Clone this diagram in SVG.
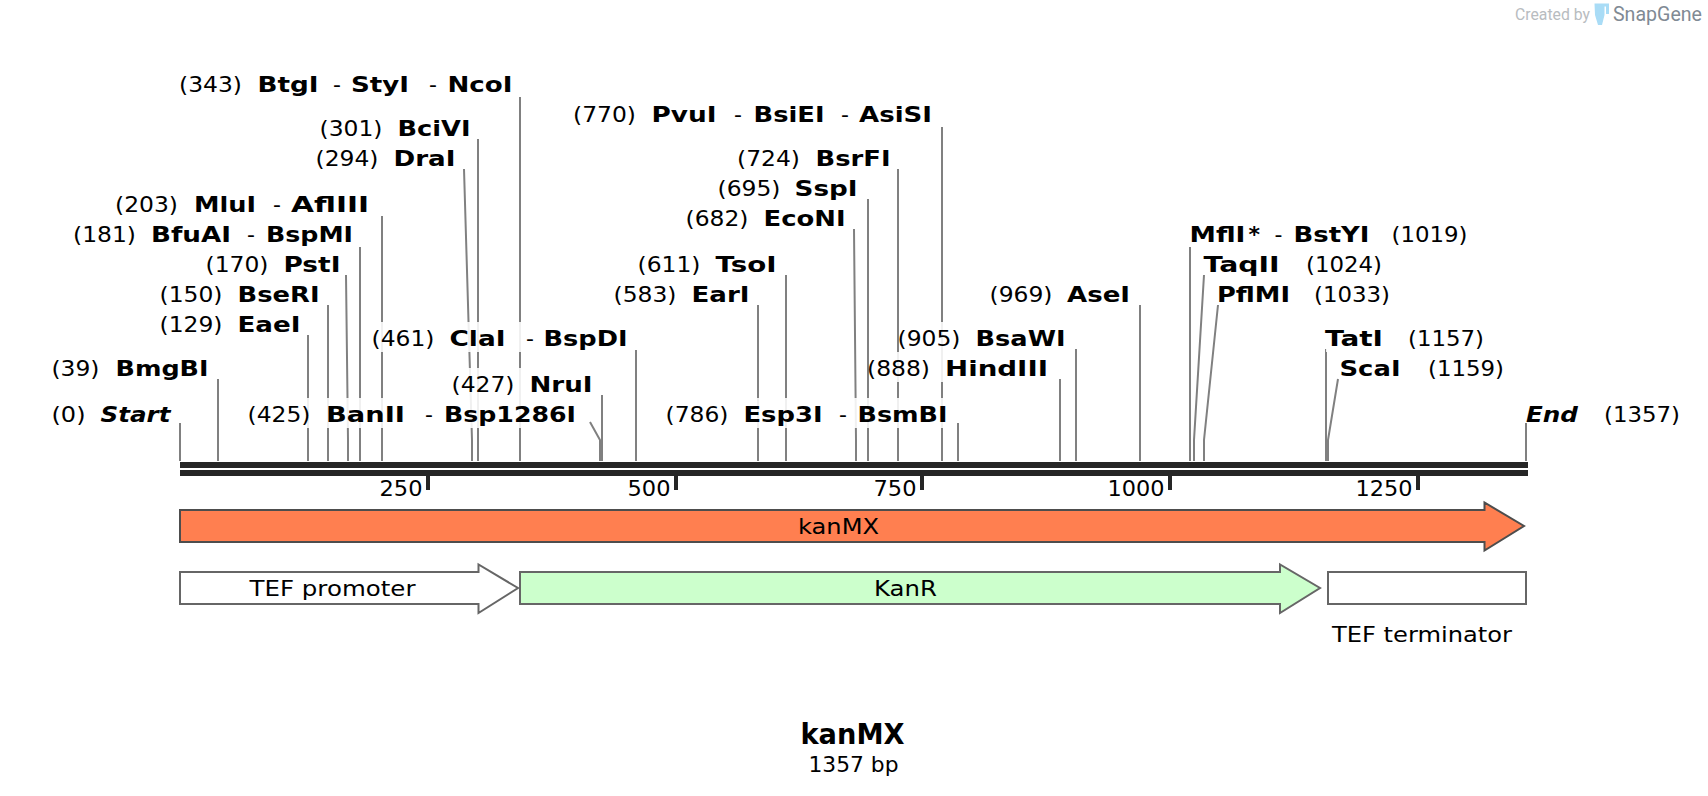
<svg xmlns="http://www.w3.org/2000/svg" width="1708" height="796" viewBox="0 0 1708 796">
<style>
text{font-family:"DejaVu Sans","Liberation Sans",sans-serif;fill:#000;font-size:22px}
.b{font-weight:bold}
.i{font-weight:bold;font-style:italic}
.h{fill:#fff;fill-opacity:.88}
.c{fill:none;stroke:#808080;stroke-width:2}
.bar{fill:#262626}
.tick{fill:#262626}
.f{stroke:#666;stroke-width:2}
</style>
<rect width="1708" height="796" fill="#fff"/>
<g id="connectors" class="c">
<path d="M180 423V461M218 379V461M308 335V461M328 305V461M346 275L348 440V461M360 247V461M382 216V461M464 169L472 440V461M478 139V461M520 97V461M590 422L600 440V461M602 395V461M636 350V461M758 305V461M786 275V461M854 229L856 440V461M868 199V461M898 169V461M942 127V461M958 423V461M1060 379V461M1076 349V461M1140 305V461M1190 247V461M1204 275L1194 440V461M1218 305L1204 440V461M1326 349V461M1338 379L1328 440V461M1526 423V461"/>
</g>
<g id="backbone">
<rect class="bar" x="180" y="462" width="1348" height="6"/>
<rect class="bar" x="180" y="470" width="1348" height="6"/>
<rect class="tick" x="426" y="476" width="4" height="14"/>
<rect class="tick" x="674" y="476" width="4" height="14"/>
<rect class="tick" x="920" y="476" width="4" height="14"/>
<rect class="tick" x="1168" y="476" width="4" height="14"/>
<rect class="tick" x="1416" y="476" width="4" height="14"/>
<text x="379.5" y="496" lengthAdjust="spacingAndGlyphs" textLength="43">250</text>
<text x="627.5" y="496" lengthAdjust="spacingAndGlyphs" textLength="43">500</text>
<text x="873.5" y="496" lengthAdjust="spacingAndGlyphs" textLength="43">750</text>
<text x="1107.5" y="496" lengthAdjust="spacingAndGlyphs" textLength="57">1000</text>
<text x="1355.5" y="496" lengthAdjust="spacingAndGlyphs" textLength="57">1250</text>
</g>
<g id="site-btgi"><rect class="h" x="181" y="68" width="330" height="30"/><text x="179" y="92" lengthAdjust="spacingAndGlyphs" textLength="63">(343)</text><text class="b" x="257.5" y="92" lengthAdjust="spacingAndGlyphs" textLength="61">BtgI</text><text x="333" y="92">-</text><text class="b" x="351" y="92" lengthAdjust="spacingAndGlyphs" textLength="58">StyI</text><text x="429" y="92">-</text><text class="b" x="447.5" y="92" lengthAdjust="spacingAndGlyphs" textLength="65">NcoI</text></g>
<g id="site-bcivi"><rect class="h" x="321" y="112" width="148" height="30"/><text x="319.5" y="136" lengthAdjust="spacingAndGlyphs" textLength="63">(301)</text><text class="b" x="397.5" y="136" lengthAdjust="spacingAndGlyphs" textLength="73">BciVI</text></g>
<g id="site-drai"><rect class="h" x="317" y="142" width="137" height="30"/><text x="315.5" y="166" lengthAdjust="spacingAndGlyphs" textLength="63">(294)</text><text class="b" x="393.5" y="166" lengthAdjust="spacingAndGlyphs" textLength="62">DraI</text></g>
<g id="site-mlui"><rect class="h" x="117" y="188" width="250" height="30"/><text x="115" y="212" lengthAdjust="spacingAndGlyphs" textLength="63">(203)</text><text class="b" x="194" y="212" lengthAdjust="spacingAndGlyphs" textLength="62">MluI</text><text x="273" y="212">-</text><text class="b" x="291" y="212" lengthAdjust="spacingAndGlyphs" textLength="78">AflIII</text></g>
<g id="site-bfuai"><rect class="h" x="75" y="218" width="275" height="30"/><text x="73" y="242" lengthAdjust="spacingAndGlyphs" textLength="63">(181)</text><text class="b" x="151" y="242" lengthAdjust="spacingAndGlyphs" textLength="80">BfuAI</text><text x="247" y="242">-</text><text class="b" x="266" y="242" lengthAdjust="spacingAndGlyphs" textLength="87">BspMI</text></g>
<g id="site-psti"><rect class="h" x="207" y="248" width="132" height="30"/><text x="205.5" y="272" lengthAdjust="spacingAndGlyphs" textLength="63">(170)</text><text class="b" x="283.5" y="272" lengthAdjust="spacingAndGlyphs" textLength="57">PstI</text></g>
<g id="site-bseri"><rect class="h" x="161" y="278" width="156" height="30"/><text x="159.5" y="302" lengthAdjust="spacingAndGlyphs" textLength="63">(150)</text><text class="b" x="237.5" y="302" lengthAdjust="spacingAndGlyphs" textLength="82">BseRI</text></g>
<g id="site-eaei"><rect class="h" x="161" y="308" width="138" height="30"/><text x="159.5" y="332" lengthAdjust="spacingAndGlyphs" textLength="63">(129)</text><text class="b" x="237.5" y="332" lengthAdjust="spacingAndGlyphs" textLength="63">EaeI</text></g>
<g id="site-bmgbi"><rect class="h" x="53" y="352" width="153" height="30"/><text x="51.5" y="376" lengthAdjust="spacingAndGlyphs" textLength="48">(39)</text><text class="b" x="115.5" y="376" lengthAdjust="spacingAndGlyphs" textLength="93">BmgBI</text></g>
<g id="site-start"><rect class="h" x="53" y="398" width="116" height="30"/><text x="51.5" y="422" lengthAdjust="spacingAndGlyphs" textLength="34">(0)</text><text class="i" x="100.5" y="422" lengthAdjust="spacingAndGlyphs" textLength="70">Start</text></g>
<g id="site-banii"><rect class="h" x="249" y="398" width="324" height="30"/><text x="247.5" y="422" lengthAdjust="spacingAndGlyphs" textLength="63">(425)</text><text class="b" x="326" y="422" lengthAdjust="spacingAndGlyphs" textLength="79">BanII</text><text x="425" y="422">-</text><text class="b" x="444" y="422" lengthAdjust="spacingAndGlyphs" textLength="132">Bsp1286I</text></g>
<g id="site-clai"><rect class="h" x="373" y="322" width="252" height="30"/><text x="371.5" y="346" lengthAdjust="spacingAndGlyphs" textLength="63">(461)</text><text class="b" x="449.5" y="346" lengthAdjust="spacingAndGlyphs" textLength="56">ClaI</text><text x="526" y="346">-</text><text class="b" x="543.5" y="346" lengthAdjust="spacingAndGlyphs" textLength="84">BspDI</text></g>
<g id="site-nrui"><rect class="h" x="453" y="368" width="138" height="30"/><text x="451.5" y="392" lengthAdjust="spacingAndGlyphs" textLength="63">(427)</text><text class="b" x="529.5" y="392" lengthAdjust="spacingAndGlyphs" textLength="63">NruI</text></g>
<g id="site-pvui"><rect class="h" x="575" y="98" width="355" height="30"/><text x="573" y="122" lengthAdjust="spacingAndGlyphs" textLength="63">(770)</text><text class="b" x="651.5" y="122" lengthAdjust="spacingAndGlyphs" textLength="65">PvuI</text><text x="734" y="122">-</text><text class="b" x="753.5" y="122" lengthAdjust="spacingAndGlyphs" textLength="71">BsiEI</text><text x="841" y="122">-</text><text class="b" x="859" y="122" lengthAdjust="spacingAndGlyphs" textLength="73">AsiSI</text></g>
<g id="site-bsrfi"><rect class="h" x="739" y="142" width="149" height="30"/><text x="737" y="166" lengthAdjust="spacingAndGlyphs" textLength="63">(724)</text><text class="b" x="815.5" y="166" lengthAdjust="spacingAndGlyphs" textLength="75">BsrFI</text></g>
<g id="site-sspi"><rect class="h" x="719" y="172" width="137" height="30"/><text x="717.5" y="196" lengthAdjust="spacingAndGlyphs" textLength="63">(695)</text><text class="b" x="794.5" y="196" lengthAdjust="spacingAndGlyphs" textLength="63">SspI</text></g>
<g id="site-econi"><rect class="h" x="687" y="202" width="157" height="30"/><text x="685.5" y="226" lengthAdjust="spacingAndGlyphs" textLength="63">(682)</text><text class="b" x="763.5" y="226" lengthAdjust="spacingAndGlyphs" textLength="82">EcoNI</text></g>
<g id="site-tsoi"><rect class="h" x="639" y="248" width="136" height="30"/><text x="637.5" y="272" lengthAdjust="spacingAndGlyphs" textLength="63">(611)</text><text class="b" x="715.5" y="272" lengthAdjust="spacingAndGlyphs" textLength="61">TsoI</text></g>
<g id="site-eari"><rect class="h" x="615" y="278" width="133" height="30"/><text x="613.5" y="302" lengthAdjust="spacingAndGlyphs" textLength="63">(583)</text><text class="b" x="691.5" y="302" lengthAdjust="spacingAndGlyphs" textLength="58">EarI</text></g>
<g id="site-esp3i"><rect class="h" x="667" y="398" width="279" height="30"/><text x="665.5" y="422" lengthAdjust="spacingAndGlyphs" textLength="63">(786)</text><text class="b" x="743.5" y="422" lengthAdjust="spacingAndGlyphs" textLength="79">Esp3I</text><text x="839" y="422">-</text><text class="b" x="857.5" y="422" lengthAdjust="spacingAndGlyphs" textLength="90">BsmBI</text></g>
<g id="site-asei"><rect class="h" x="991" y="278" width="138" height="30"/><text x="989.5" y="302" lengthAdjust="spacingAndGlyphs" textLength="63">(969)</text><text class="b" x="1067" y="302" lengthAdjust="spacingAndGlyphs" textLength="63">AseI</text></g>
<g id="site-bsawi"><rect class="h" x="899" y="322" width="165" height="30"/><text x="897.5" y="346" lengthAdjust="spacingAndGlyphs" textLength="63">(905)</text><text class="b" x="975.5" y="346" lengthAdjust="spacingAndGlyphs" textLength="90">BsaWI</text></g>
<g id="site-hindiii"><rect class="h" x="869" y="352" width="177" height="30"/><text x="867" y="376" lengthAdjust="spacingAndGlyphs" textLength="63">(888)</text><text class="b" x="945" y="376" lengthAdjust="spacingAndGlyphs" textLength="103">HindIII</text></g>
<g id="site-mfli"><rect class="h" x="1191" y="218" width="275" height="30"/><text class="b" x="1189.5" y="242" lengthAdjust="spacingAndGlyphs" textLength="56">MflI</text><text class="b" x="1248.500" y="242">*</text><text x="1274.5" y="242">-</text><text class="b" x="1293.5" y="242" lengthAdjust="spacingAndGlyphs" textLength="76">BstYI</text><text x="1391.5" y="242" lengthAdjust="spacingAndGlyphs" textLength="76">(1019)</text></g>
<g id="site-taqii"><rect class="h" x="1205" y="248" width="176" height="30"/><text class="b" x="1203.5" y="272" lengthAdjust="spacingAndGlyphs" textLength="76">TaqII</text><text x="1306" y="272" lengthAdjust="spacingAndGlyphs" textLength="76">(1024)</text></g>
<g id="site-pflmi"><rect class="h" x="1219" y="278" width="170" height="30"/><text class="b" x="1217" y="302" lengthAdjust="spacingAndGlyphs" textLength="73">PflMI</text><text x="1314" y="302" lengthAdjust="spacingAndGlyphs" textLength="76">(1033)</text></g>
<g id="site-tati"><rect class="h" x="1326" y="322" width="157" height="30"/><text class="b" x="1325" y="346" lengthAdjust="spacingAndGlyphs" textLength="58">TatI</text><text x="1408" y="346" lengthAdjust="spacingAndGlyphs" textLength="76">(1157)</text></g>
<g id="site-scai"><rect class="h" x="1341" y="352" width="162" height="30"/><text class="b" x="1339.5" y="376" lengthAdjust="spacingAndGlyphs" textLength="61">ScaI</text><text x="1428" y="376" lengthAdjust="spacingAndGlyphs" textLength="76">(1159)</text></g>
<g id="site-end"><rect class="h" x="1527" y="398" width="152" height="30"/><text class="i" x="1526" y="422" lengthAdjust="spacingAndGlyphs" textLength="52">End</text><text x="1604" y="422" lengthAdjust="spacingAndGlyphs" textLength="76">(1357)</text></g>
<g id="feature-kanmx"><path d="M180 510H1484.500V502.500L1524 526L1484.500 550.500V542H180Z" fill="#ff7f50" stroke="#4d4d4d" stroke-width="2"/><text x="798" y="533.500" lengthAdjust="spacingAndGlyphs" textLength="81">kanMX</text></g>
<g id="feature-tef-promoter"><path class="f" d="M180 572H478.500V564.500L518 588L478.500 613V604H180Z" fill="#fff"/><text x="249.500" y="595.700" lengthAdjust="spacingAndGlyphs" textLength="166">TEF promoter</text></g>
<g id="feature-kanr"><path class="f" d="M520 572H1280V564.500L1320 588L1280 613V604H520Z" fill="#ccffcc"/><text x="874" y="595.700" lengthAdjust="spacingAndGlyphs" textLength="63">KanR</text></g>
<g id="feature-tef-terminator"><rect class="f" x="1328" y="572" width="198" height="32" fill="#fff"/><text x="1332" y="641.700" lengthAdjust="spacingAndGlyphs" textLength="180">TEF terminator</text></g>
<g id="title"><text class="b" x="800.500" y="744" style="font-size:28px" lengthAdjust="spacingAndGlyphs" textLength="104">kanMX</text><text x="808.500" y="771.700" lengthAdjust="spacingAndGlyphs" textLength="90">1357 bp</text></g>
<g id="watermark"><text x="1515" y="20" style="font-family:Roboto,sans-serif;font-size:16.500px;fill:#b8bcc0" lengthAdjust="spacingAndGlyphs" textLength="75">Created by</text><path d="M1594.500 3.500H1609V14H1606V6.500H1604.500V15L1602 25H1598L1595 15Z" fill="#a9dcf6"/><text x="1613" y="21" style="font-family:Roboto,sans-serif;font-size:20px;fill:#808a94" lengthAdjust="spacingAndGlyphs" textLength="89">SnapGene</text></g>
</svg>
